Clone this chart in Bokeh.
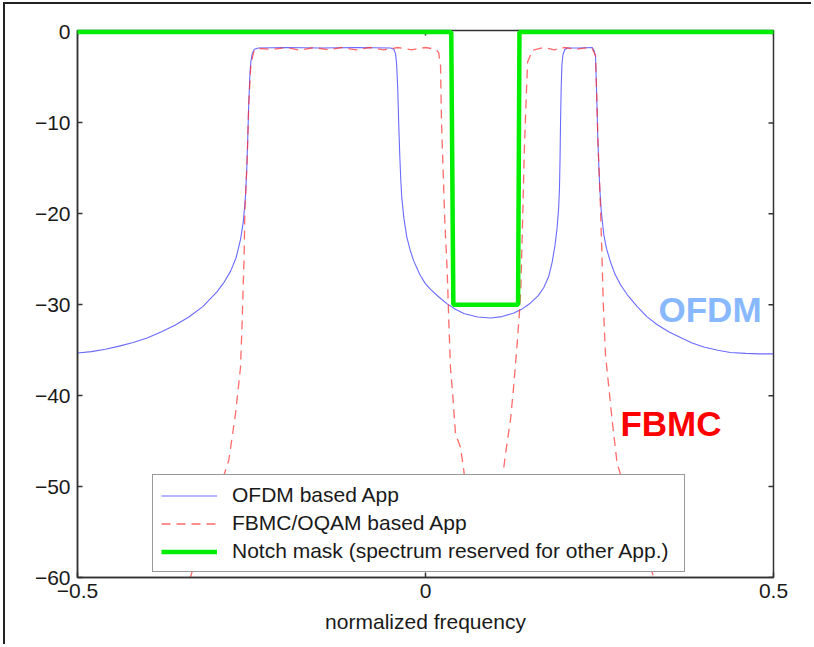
import math
from bokeh.plotting import figure
from bokeh.models import Range1d, FixedTicker, Legend, LegendItem, Label
from bokeh.embed import file_html
from bokeh.resources import INLINE

# ---- data ----
freq_ofdm = [-0.500, -0.480, -0.460, -0.440, -0.420, -0.400, -0.380, -0.360, -0.340, -0.320,
             -0.300, -0.290, -0.280, -0.272, -0.266, -0.262, -0.259, -0.257, -0.2555, -0.254,
             -0.2525, -0.251, -0.249, -0.246, -0.240, -0.200, -0.150, -0.100, -0.050, -0.0455,
             -0.043, -0.0415, -0.040, -0.0385, -0.037, -0.0355, -0.034, -0.031, -0.027, -0.022,
             -0.0168, -0.008, 0.000, 0.0072, 0.020, 0.0312, 0.043, 0.055, 0.075, 0.0934,
             0.110, 0.127, 0.140, 0.151, 0.162, 0.170, 0.177, 0.182, 0.186, 0.189,
             0.1912, 0.1925, 0.1933, 0.194, 0.195, 0.196, 0.1975, 0.200, 0.2036, 0.220,
             0.2395, 0.2425, 0.2443, 0.2457, 0.2467, 0.2476, 0.249, 0.2504, 0.2525, 0.2562,
             0.260, 0.2658, 0.272, 0.2802, 0.290, 0.3042, 0.318, 0.333, 0.350, 0.3664,
             0.383, 0.400, 0.420, 0.438, 0.460, 0.480, 0.500]
psd_ofdm = [-35.3, -35.15, -34.9, -34.55, -34.15, -33.65, -33.0, -32.25, -31.35, -30.2,
            -28.6, -27.6, -26.3, -24.8, -22.9, -21.0, -18.5, -15.5, -12.0, -8.0,
            -5.0, -3.3, -2.4, -1.9, -1.75, -1.7, -1.75, -1.7, -1.75, -1.9,
            -2.4, -3.5, -6.0, -10.0, -13.5, -16.3, -18.3, -20.5, -22.5, -24.0,
            -25.2, -26.7, -27.7, -28.3, -29.2, -29.9, -30.5, -30.95, -31.35, -31.45,
            -31.3, -30.9, -30.4, -29.8, -29.0, -28.1, -26.9, -25.3, -23.5, -21.6,
            -19.5, -17.2, -14.0, -10.0, -6.0, -3.6, -2.5, -1.95, -1.75, -1.75,
            -1.7, -2.1, -2.7, -6.2, -9.0, -11.7, -14.7, -17.2, -19.7, -22.3,
            -23.8, -25.3, -26.6, -27.8, -28.9, -30.2, -31.3, -32.2, -33.0, -33.6,
            -34.2, -34.65, -35.0, -35.25, -35.35, -35.4, -35.4]

nan = float("nan")
freq_fbmc = [-0.338, -0.2826, -0.273, -0.2658, -0.2634, -0.262, -0.2605, -0.2595, -0.2585, -0.256,
             -0.254, -0.251, -0.247, -0.240, -0.220, -0.200, -0.180, -0.160, -0.140, -0.120,
             -0.100, -0.080, -0.060, -0.040, -0.020, 0.000, 0.015, 0.019, 0.0216, 0.023,
             0.0254, 0.0277, 0.0312, 0.0335, 0.0359, 0.0398, 0.0431, 0.0503, 0.055, 0.058,
             nan,
             0.1125, 0.115, 0.1225, 0.127, 0.132, 0.1355, 0.137, 0.1395, 0.1418, 0.1443,
             0.1467, 0.1538, 0.170, 0.185, 0.200, 0.215, 0.230, 0.2395, 0.2443, 0.2457,
             0.2476, 0.2504, 0.2515, 0.2535, 0.2555, 0.2586, 0.2634, 0.2683, 0.2754, 0.328]
psd_fbmc = [-60.0, -47.1, -42.0, -36.9, -31.8, -28.1, -24.5, -19.5, -18.0, -13.5,
            -8.0, -3.7, -2.2, -1.8, -1.9, -1.7, -2.0, -1.7, -1.95, -1.7,
            -1.95, -1.7, -1.95, -1.7, -1.95, -1.7, -1.9, -2.3, -3.7, -9.9,
            -15.4, -20.8, -26.3, -31.8, -36.9, -40.6, -44.2, -45.7, -48.2, -50.5,
            nan,
            -47.9, -46.4, -42.4, -38.7, -34.0, -30.3, -28.1, -20.8, -13.5, -8.0,
            -3.3, -2.0, -1.7, -1.95, -1.7, -1.9, -1.75, -1.8, -2.6, -6.2,
            -11.7, -17.2, -19.5, -24.5, -30.0, -35.5, -39.1, -42.8, -47.5, -60.0]

freq_mask = [-0.5, 0.037, 0.040, 0.133, 0.135, 0.5]
mask_db = [0, 0, -30, -30, 0, 0]

x_ticks = [-0.5, 0, 0.5]
x_tick_labels = ["\u22120.5", "0", "0.5"]
y_ticks = [0, -10, -20, -30, -40, -50, -60]
y_tick_labels = ["0", "\u221210", "\u221220", "\u221230", "\u221240", "\u221250", "\u221260"]

series_names = ["OFDM based App", "FBMC/OQAM based App",
                "Notch mask (spectrum reserved for other App.)"]
ann_ofdm = ("OFDM", 0.3348, -30.5)
ann_fbmc = ("FBMC", 0.280, -43.05)

X_MIN, X_MAX = -0.5, 0.5
Y_MIN, Y_MAX = -60, 0.17

FONT = "Liberation Sans"
DARK = "#333333"
TXT = "#1a1a1a"

p = figure(width=808, height=642, output_backend="svg", toolbar_location=None,
           x_range=Range1d(X_MIN, X_MAX), y_range=Range1d(Y_MIN, Y_MAX),
           min_border_left=72, min_border_right=40, min_border_top=26, min_border_bottom=69)
p.margin = (2, 0, 0, 3)
p.styles = {"border-top": "2px solid #222", "border-left": "2px solid #222"}
p.xgrid.visible = False
p.ygrid.visible = False
p.outline_line_color = DARK
p.outline_line_width = 1.5
p.background_fill_color = "white"
p.border_fill_color = "white"


def style_axis(ax, ticks, labels):
    ax.ticker = FixedTicker(ticks=ticks)
    ax.major_label_overrides = {t: l for t, l in zip(ticks, labels)}
    ax.axis_line_color = DARK
    ax.axis_line_width = 1.5
    ax.major_tick_line_color = DARK
    ax.major_tick_line_width = 1.5
    ax.major_tick_in = 5
    ax.major_tick_out = 0
    ax.minor_tick_line_color = None
    ax.major_label_text_font = FONT
    ax.major_label_text_color = TXT
    ax.major_label_text_font_size = "21px"


style_axis(p.xaxis[0], x_ticks, x_tick_labels)
p.xaxis[0].major_label_standoff = 6
p.xaxis[0].axis_label = "normalized frequency"
p.xaxis[0].axis_label_text_font = FONT
p.xaxis[0].axis_label_text_font_size = "21px"
p.xaxis[0].axis_label_text_font_style = "normal"
p.xaxis[0].axis_label_text_color = TXT
p.xaxis[0].axis_label_standoff = 9

style_axis(p.yaxis[0], y_ticks, y_tick_labels)
p.yaxis[0].major_label_standoff = 7

# inward tick marks on the top and right edges of the box (no labels there)
p.ray(x=[X_MAX] * len(y_ticks), y=y_ticks, length=5, length_units="screen",
      angle=math.pi, line_color=DARK, line_width=1.5)
p.ray(x=x_ticks, y=[Y_MAX] * len(x_ticks), length=5, length_units="screen",
      angle=-math.pi / 2, line_color=DARK, line_width=1.5)

r_ofdm = p.line(freq_ofdm, psd_ofdm, line_color="#3030ff", line_width=1.1, line_alpha=0.72)
r_fbmc = p.line(freq_fbmc, psd_fbmc, line_color="#ff3030", line_width=1.3, line_alpha=0.72,
                line_dash="9 6")
r_mask = p.line(freq_mask, mask_db, line_color="#00ee00", line_width=4.5, level="overlay")

p.add_layout(Label(x=ann_ofdm[1], y=ann_ofdm[2], text=ann_ofdm[0], text_font=FONT,
                   text_font_size="35px", text_font_style="bold", text_color="#88b8ff",
                   text_baseline="alphabetic"))
p.add_layout(Label(x=ann_fbmc[1], y=ann_fbmc[2], text=ann_fbmc[0], text_font=FONT,
                   text_font_size="35px", text_font_style="bold", text_color="#ff0000",
                   text_baseline="alphabetic"))

legend = Legend(items=[LegendItem(label=series_names[0], renderers=[r_ofdm]),
                       LegendItem(label=series_names[1], renderers=[r_fbmc]),
                       LegendItem(label=series_names[2], renderers=[r_mask])],
                location=(75, 5))
legend.label_text_font = FONT
legend.label_text_font_size = "21px"
legend.label_text_color = TXT
legend.glyph_width = 56
legend.glyph_height = 23
legend.label_height = 23
legend.label_standoff = 15
legend.label_width = 444
legend.spacing = 4
legend.padding = 8
legend.margin = 0
legend.border_line_color = DARK
legend.border_line_width = 1.5
legend.background_fill_color = "white"
legend.background_fill_alpha = 1.0
p.add_layout(legend)

open("out.html", "w").write(file_html(p, INLINE))
